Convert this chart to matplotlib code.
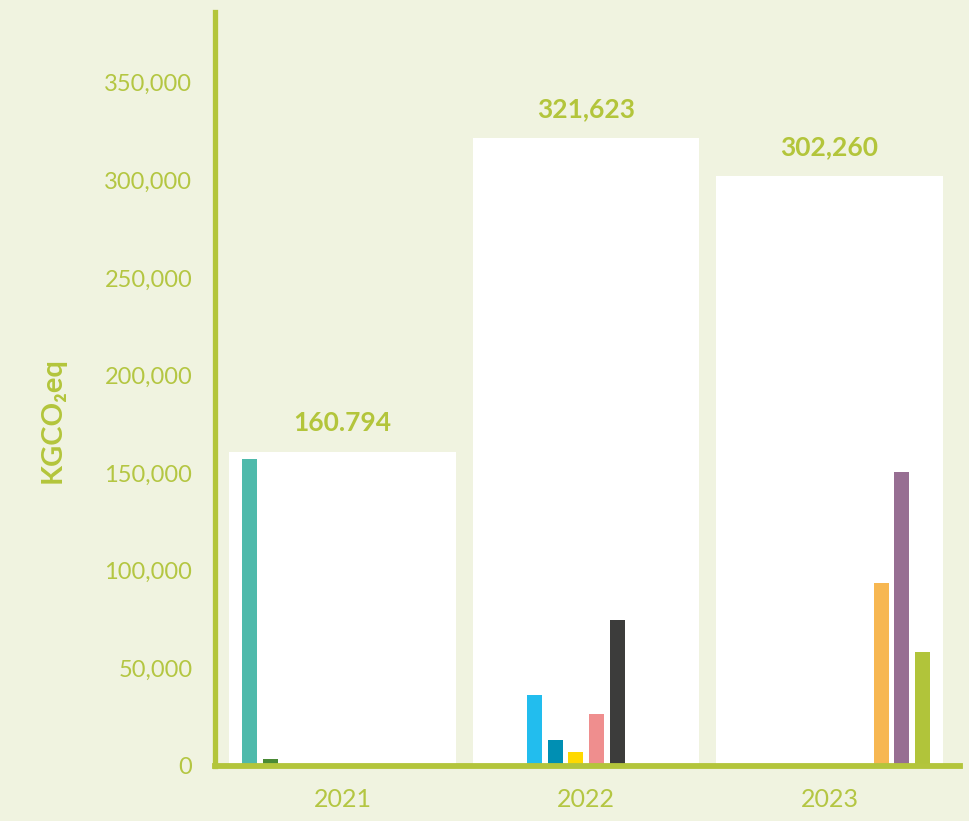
import numpy as np
import matplotlib.pyplot as plt

# datos (kgCO2eq)
anios = ['2021', '2022', '2023']
totales = [160794, 321623, 302260]
etiquetas_totales = ['160.794', '321,623', '302,260']

# 10 categorias, cada una solo aparece en un anio
colores = ['#4fbaab', '#4a8a35', '#22bdee', '#008fb3', '#ffd900',
           '#ef8e8e', '#3c3c3b', '#f7b751', '#976e92', '#b1c43a']
valores_2021 = [157100, 3600, 0, 0, 0, 0, 0, 0, 0, 0]
valores_2022 = [0, 0, 36300, 13300, 7200, 26600, 74700, 0, 0, 0]
valores_2023 = [0, 0, 0, 0, 0, 0, 0, 93700, 150500, 58300]

yticks = [0, 50000, 100000, 150000, 200000, 250000, 300000, 350000]

verde = '#b3c53b'
fondo = '#f0f3e0'

plt.rcParams['font.family'] = ['Lato', 'DejaVu Sans']

fig = plt.figure(figsize=(9.69, 8.21), dpi=100)
fig.set_facecolor(fondo)
ax = fig.add_axes([0.2214, 0.067, 0.7693, 0.918])
ax.set_facecolor(fondo)

x = np.arange(len(anios))
ax.bar(x, totales, width=0.932, color='white', zorder=1)

por_anio = np.array([valores_2021, valores_2022, valores_2023])
n = len(colores)
paso = 0.085
for i in range(n):
    off = (i - (n - 1) / 2) * paso
    ax.bar(x + off, por_anio[:, i], width=0.0616, color=colores[i], zorder=2)

for xi, tot, lab in zip(x, totales, etiquetas_totales):
    ax.annotate(lab, (xi, tot), xytext=(0, 21), textcoords='offset points',
                ha='center', va='center', fontsize=19, fontweight='bold',
                color=verde)

ax.set_xlim(-0.526, 2.536)
ax.set_ylim(0, 386000)
ax.set_xticks(x)
ax.set_xticklabels(anios)
ax.set_yticks(yticks)
ax.set_yticklabels([f'{v:,}' for v in yticks])
ax.tick_params(axis='both', length=0, labelcolor='#b4c642')
ax.tick_params(axis='y', pad=16, labelsize=17)
ax.tick_params(axis='x', pad=16, labelsize=18)

for s in ['top', 'right']:
    ax.spines[s].set_visible(False)
ax.spines['left'].set_color(verde)
ax.spines['bottom'].set_color(verde)
ax.spines['left'].set_linewidth(3.8)
ax.spines['bottom'].set_linewidth(4.2)
ax.spines['left'].set_zorder(3)
ax.spines['bottom'].set_zorder(3)

fig.text(0.054, 0.488, 'KGCO₂eq', rotation=90, ha='center', va='center',
         fontsize=21, fontweight='bold', color=verde)

fig.savefig('out.png', dpi=100, facecolor=fondo)
